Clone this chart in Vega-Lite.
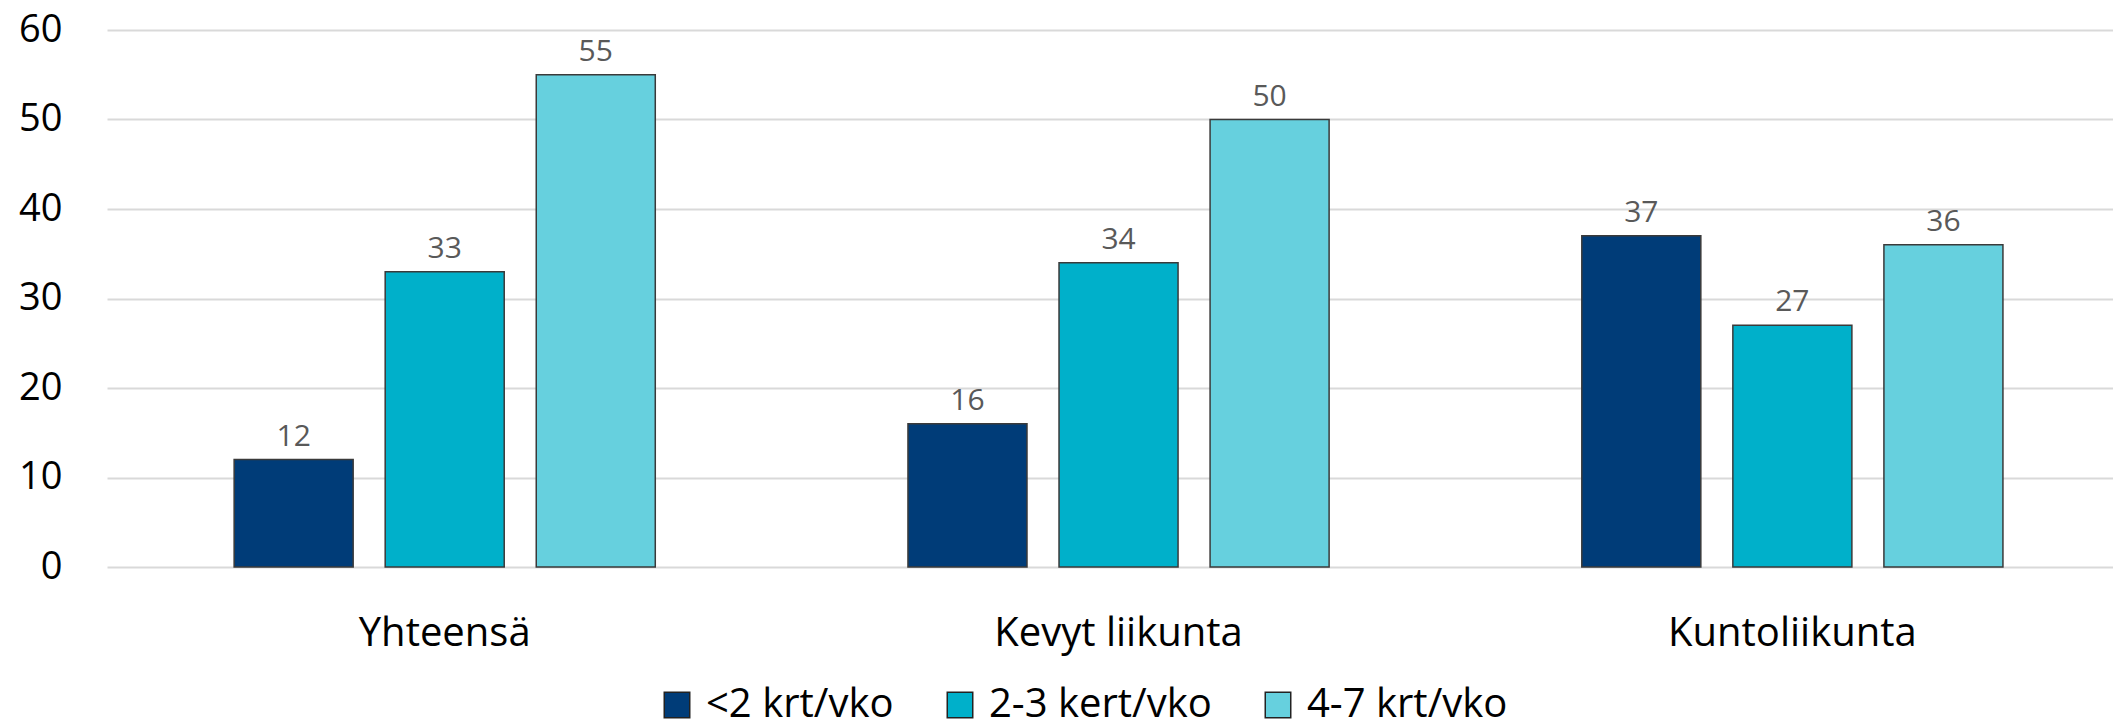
{
  "$schema": "https://vega.github.io/schema/vega-lite/v6.json",
  "width": 2006,
  "height": 537,
  "autosize": {"type": "none"},
  "padding": {"left": 107, "top": 30, "right": 0, "bottom": 161},
  "background": "white",
  "data": {
    "values": [
      {"ryhma": "Yhteensä", "sarja": "<2 krt/vko", "arvo": 12},
      {"ryhma": "Yhteensä", "sarja": "2-3 kert/vko", "arvo": 33},
      {"ryhma": "Yhteensä", "sarja": "4-7 krt/vko", "arvo": 55},
      {"ryhma": "Kevyt liikunta", "sarja": "<2 krt/vko", "arvo": 16},
      {"ryhma": "Kevyt liikunta", "sarja": "2-3 kert/vko", "arvo": 34},
      {"ryhma": "Kevyt liikunta", "sarja": "4-7 krt/vko", "arvo": 50},
      {"ryhma": "Kuntoliikunta", "sarja": "<2 krt/vko", "arvo": 37},
      {"ryhma": "Kuntoliikunta", "sarja": "2-3 kert/vko", "arvo": 27},
      {"ryhma": "Kuntoliikunta", "sarja": "4-7 krt/vko", "arvo": 36}
    ]
  },
  "config": {
    "font": "Open Sans",
    "view": {"stroke": null}
  },
  "encoding": {
    "x": {
      "field": "ryhma",
      "type": "nominal",
      "sort": ["Yhteensä", "Kevyt liikunta", "Kuntoliikunta"],
      "scale": {"paddingInner": 0.375, "paddingOuter": 0.176, "align": 0.536},
      "axis": {
        "title": null,
        "labelAngle": 0,
        "labelFontSize": 40,
        "labelColor": "#000000",
        "labelPadding": 66,
        "labelBaseline": "middle",
        "labelLimit": 500,
        "domain": false,
        "ticks": false
      }
    },
    "xOffset": {
      "field": "sarja",
      "type": "nominal",
      "sort": ["<2 krt/vko", "2-3 kert/vko", "4-7 krt/vko"],
      "scale": {"paddingInner": 0.212, "paddingOuter": 0}
    },
    "y": {
      "field": "arvo",
      "type": "quantitative",
      "scale": {"domain": [0, 60]},
      "axis": {
        "title": null,
        "values": [0, 10, 20, 30, 40, 50, 60],
        "labelFontSize": 38,
        "labelColor": "#000000",
        "labelPadding": 45,
        "domain": false,
        "ticks": false,
        "gridColor": "#d9d9d9",
        "gridWidth": 2
      }
    }
  },
  "layer": [
    {
      "mark": {"type": "bar", "stroke": "#3a3a3a", "strokeWidth": 1.5},
      "encoding": {
        "color": {
          "field": "sarja",
          "type": "nominal",
          "sort": ["<2 krt/vko", "2-3 kert/vko", "4-7 krt/vko"],
          "scale": {
            "domain": ["<2 krt/vko", "2-3 kert/vko", "4-7 krt/vko"],
            "range": ["#003c78", "#00b0ca", "#66d0de"]
          },
          "legend": {
            "title": null,
            "orient": "none",
            "legendX": 550,
            "legendY": 655,
            "direction": "horizontal",
            "columns": 3,
            "symbolType": "square",
            "symbolSize": 650,
            "symbolStrokeColor": "#222222",
            "symbolStrokeWidth": 1.5,
            "labelFontSize": 40,
            "labelColor": "#000000",
            "labelOffset": 9,
            "labelLimit": 500,
            "columnPadding": 46
          }
        }
      }
    },
    {
      "mark": {"type": "text", "baseline": "alphabetic", "dy": -14, "fontSize": 30, "color": "#595959"},
      "encoding": {
        "text": {"field": "arvo", "type": "quantitative"}
      }
    }
  ]
}
